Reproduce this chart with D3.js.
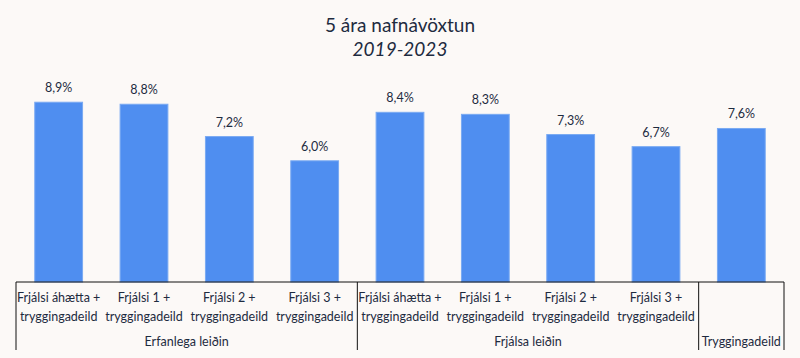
<!DOCTYPE html>
<html><head><meta charset="utf-8">
<script src="https://cdn.jsdelivr.net/npm/d3@7/dist/d3.min.js"></script>
<style>
html,body{margin:0;padding:0;background:#fcf9f7;}
svg{display:block;font-family:Lato,"Open Sans",sans-serif;}
</style></head><body>
<svg id="c" width="800" height="358"></svg>
<script>
const categories = [
  ["Frjálsi áhætta +","tryggingadeild"],
  ["Frjálsi 1 +","tryggingadeild"],
  ["Frjálsi 2 +","tryggingadeild"],
  ["Frjálsi 3 +","tryggingadeild"],
  ["Frjálsi áhætta +","tryggingadeild"],
  ["Frjálsi 1 +","tryggingadeild"],
  ["Frjálsi 2 +","tryggingadeild"],
  ["Frjálsi 3 +","tryggingadeild"],
  []
];
const values = [8.9, 8.8, 7.2, 6.0, 8.4, 8.3, 7.3, 6.7, 7.6];
const groups = [
  {name:"Erfanlega leiðin", start:0, count:4},
  {name:"Frjálsa leiðin", start:4, count:4},
  {name:"Tryggingadeild", start:8, count:1}
];
const title = "5 ára nafnávöxtun";
const subtitle = "2019-2023";

const svg = d3.select("#c");
const W=800, H=358;
const m = {l:16, r:16, t:80, b:76};
const baseY = H - m.b;
const textColor = "#1e2b3f";

const x = d3.scaleBand().domain(d3.range(values.length)).range([m.l, W-m.r]).paddingInner(0.44).paddingOuter(0.22);
const step = (W-m.l-m.r)/values.length;
const xs = d3.scaleLinear().domain([0, values.length]).range([m.l, W-m.r]);
const y = d3.scaleLinear().domain([0,10]).range([baseY, baseY - 202]);

svg.append("text").attr("x",400).attr("y",32).attr("text-anchor","middle")
  .attr("fill",textColor).attr("font-size",19).text(title);
svg.append("text").attr("x",400).attr("y",56).attr("text-anchor","middle")
  .attr("fill",textColor).attr("font-size",19).attr("font-style","italic").text(subtitle);

svg.selectAll("rect.bar").data(values).join("rect").attr("class","bar")
  .attr("x",(d,i)=>xs(i)+step*0.22)
  .attr("width",step*0.56)
  .attr("y",d=>y(d)).attr("height",d=>baseY-y(d))
  .attr("fill","#4f8ef0").attr("stroke","#7aaaf2").attr("stroke-width",1);

svg.selectAll("text.val").data(values).join("text").attr("class","val")
  .attr("x",(d,i)=>xs(i+0.5)).attr("y",d=>y(d)-10)
  .attr("text-anchor","middle").attr("fill",textColor).attr("font-size",12.5)
  .text(d=>d3.format(".1f")(d).replace(".",",")+"%");

// axis line
svg.append("line").attr("x1",xs(0)).attr("x2",xs(values.length)).attr("y1",baseY).attr("y2",baseY)
  .attr("stroke","#111").attr("stroke-width",1);

// category labels
categories.forEach((lines,i)=>{
  lines.forEach((t,j)=>{
    svg.append("text").attr("x",xs(i+0.5)).attr("y",baseY+20+j*19)
      .attr("text-anchor","middle").attr("fill",textColor).attr("font-size",12.5).text(t);
  });
});

// group separators
const seps = [0];
groups.forEach(g=>seps.push(g.start+g.count));
seps.forEach(s=>{
  svg.append("line").attr("x1",xs(s)).attr("x2",xs(s)).attr("y1",baseY).attr("y2",baseY+68)
    .attr("stroke","#111").attr("stroke-width",1);
});
groups.forEach(g=>{
  svg.append("text").attr("x",xs(g.start+g.count/2)).attr("y",baseY+64)
    .attr("text-anchor","middle").attr("fill",textColor).attr("font-size",12.5).text(g.name);
});
</script>
</body></html>
